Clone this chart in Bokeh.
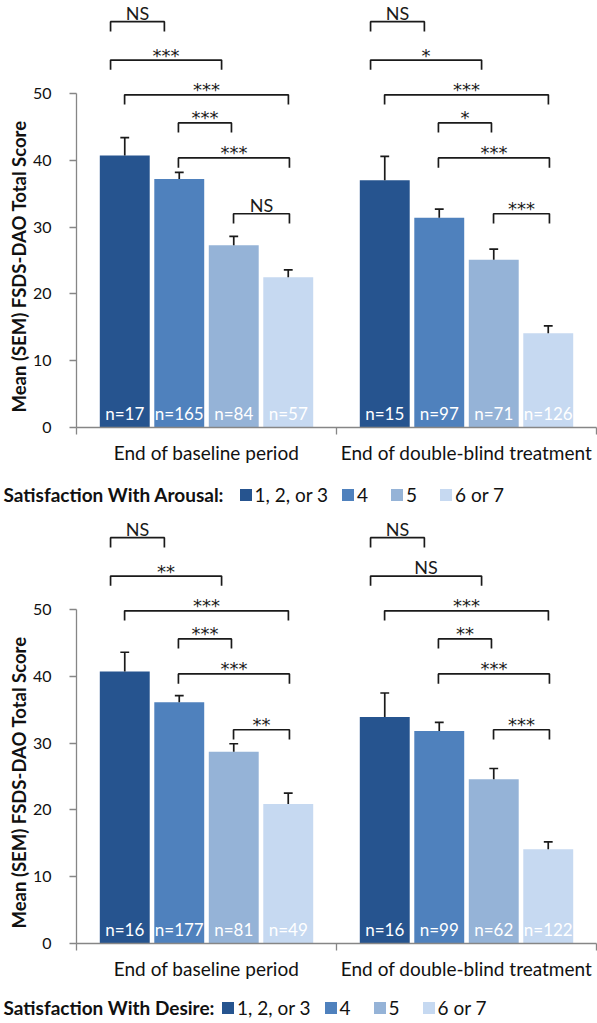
from bokeh.plotting import figure
from bokeh.models import Range1d, FixedTicker, LinearAxis, Legend, LegendItem, Title
from bokeh.layouts import column
from bokeh.embed import file_html
from bokeh.resources import INLINE
from bokeh.core.properties import value

FONT = "Lato"
STAR_FONT = "DejaVu Sans"

# ---------------- data ----------------
periods = ["End of baseline period", "End of double-blind treatment"]
levels = ["1, 2, or 3", "4", "5", "6 or 7"]
colors = ["#26548F", "#4F81BD", "#95B3D7", "#C6D9F1"]

# Panel A: Satisfaction With Arousal
arousal_mean_baseline = [40.7, 37.2, 27.3, 22.5]
arousal_sem_baseline = [2.7, 1.0, 1.3, 1.1]
arousal_mean_db = [37.0, 31.4, 25.1, 14.1]
arousal_sem_db = [3.6, 1.3, 1.6, 1.1]
arousal_n_baseline = [17, 165, 84, 57]
arousal_n_db = [15, 97, 71, 126]
arousal_sig_baseline = ["NS", "***", "***", "***", "***", "NS"]
arousal_sig_db = ["NS", "*", "***", "*", "***", "***"]

# Panel B: Satisfaction With Desire
desire_mean_baseline = [40.7, 36.1, 28.7, 20.9]
desire_sem_baseline = [2.9, 1.0, 1.2, 1.6]
desire_mean_db = [33.9, 31.8, 24.6, 14.1]
desire_sem_db = [3.6, 1.3, 1.6, 1.1]
desire_n_baseline = [16, 177, 81, 49]
desire_n_db = [16, 99, 62, 122]
desire_sig_baseline = ["NS", "**", "***", "***", "***", "**"]
desire_sig_db = ["NS", "NS", "***", "**", "***", "***"]

# significance brackets (heights in score units, ends relative to group centre)
bracket_level = [60.75, 55.0, 49.8, 45.6, 40.35, 32.0]
bracket_left = [-0.369, -0.369, -0.315, -0.108, -0.108, 0.104]
bracket_right = [-0.162, 0.058, 0.315, 0.096, 0.319, 0.319]

AXIS_COLOR = "#868686"
INK = "#1a1a1a"
TXT = "#111111"
PX_PER_UNIT = 6.68
FRAME_W = 520
PAGE_W = 597


def no_align(fig):
    if "frame_align" in fig.properties():
        fig.frame_align = False
    return fig


def make_panel(means, sems, ns, sigs, frame_h, title_offset):
    y_top = frame_h / PX_PER_UNIT
    p = figure(frame_width=FRAME_W, frame_height=frame_h,
               x_range=Range1d(0, 2), y_range=Range1d(0, y_top),
               output_backend="svg", toolbar_location=None,
               min_border_left=76, min_border_right=1, min_border_top=0,
               min_border_bottom=50,
               x_axis_type=None, y_axis_type=None)
    no_align(p)
    p.outline_line_color = None

    # y axis
    yax = LinearAxis(ticker=FixedTicker(ticks=[0, 10, 20, 30, 40, 50], minor_ticks=[]),
                     bounds=(0, 50))
    yax.axis_line_color = AXIS_COLOR
    yax.axis_line_width = 1.3
    yax.major_tick_line_color = AXIS_COLOR
    yax.major_tick_line_width = 1.3
    yax.major_tick_out = 7
    yax.major_tick_in = 0
    yax.minor_tick_out = 0
    yax.minor_tick_in = 0
    yax.major_label_text_font = FONT
    yax.major_label_text_font_size = "16px"
    yax.major_label_text_color = TXT
    yax.major_label_standoff = 18
    p.add_layout(yax, "left")

    # y axis title, placed along the 0-50 scale
    p.add_layout(Title(text="Mean (SEM) FSDS-DAO Total Score", align="left",
                       offset=title_offset, standoff=0,
                       text_font=FONT, text_font_style="bold", text_font_size="18.5px",
                       text_color=TXT), "left")

    # x axis: category boundaries as minor ticks, labels at group centres
    xax = LinearAxis(ticker=FixedTicker(ticks=[0.5, 1.5], minor_ticks=[0, 1, 2]),
                     major_label_overrides={0.5: periods[0], 1.5: periods[1]})
    xax.axis_line_color = AXIS_COLOR
    xax.axis_line_width = 1.3
    xax.major_tick_line_color = None
    xax.major_tick_out = 0
    xax.major_tick_in = 0
    xax.minor_tick_line_color = AXIS_COLOR
    xax.minor_tick_line_width = 1.3
    xax.minor_tick_out = 7
    xax.minor_tick_in = 0
    xax.major_label_text_font = FONT
    xax.major_label_text_font_size = "19px"
    xax.major_label_text_color = TXT
    xax.major_label_standoff = 6
    p.add_layout(xax, "below")

    step = 0.2096
    width = 0.192
    centers = [0.5, 1.5]
    for i in range(4):
        xs = [c + (i - 1.5) * step for c in centers]
        tops = [means[0][i], means[1][i]]
        errs = [tops[k] + sems[k][i] for k in range(2)]
        p.vbar(x=xs, top=tops, width=width, bottom=0, fill_color=colors[i], line_color=None)
        p.segment(x0=xs, y0=tops, x1=xs, y1=errs, line_color=INK, line_width=1.7)
        p.segment(x0=[x - 0.017 for x in xs], y0=errs, x1=[x + 0.017 for x in xs], y1=errs,
                  line_color=INK, line_width=1.7)
        p.text(x=xs, y=[0, 0], text=["n=%d" % ns[0][i], "n=%d" % ns[1][i]],
               text_font=value(FONT), text_font_size="17px", text_color="white",
               text_align="center", text_baseline="middle", y_offset=-14)

    # significance brackets
    bxs, bys = [], []
    ns_x, ns_y, ns_t = [], [], []
    st_x, st_y, st_t = [], [], []
    for g, c in enumerate(centers):
        for k in range(len(bracket_level)):
            l = c + bracket_left[k]
            r_ = c + bracket_right[k]
            y = bracket_level[k]
            bxs.append([l, l, r_, r_])
            bys.append([y - 1.45, y, y, y - 1.45])
            lab = sigs[g][k]
            if lab.startswith("*"):
                st_x.append((l + r_) / 2); st_y.append(y); st_t.append(lab)
            else:
                ns_x.append((l + r_) / 2); ns_y.append(y); ns_t.append(lab)
    p.multi_line(xs=bxs, ys=bys, line_color=INK, line_width=1.7)
    p.text(x=ns_x, y=ns_y, text=ns_t, text_font=value(FONT), text_font_size="18px",
           text_color=INK, text_align="center", text_baseline="middle", y_offset=-9)
    p.text(x=st_x, y=st_y, text=st_t, text_font=value(STAR_FONT), text_font_size="18px",
           text_color=INK, text_align="center", text_baseline="middle", y_offset=-5)
    return p


def legend_strip(legend_title, h, row_y, items_x):
    s = figure(frame_width=PAGE_W, frame_height=h,
               x_range=Range1d(0, PAGE_W), y_range=Range1d(0, h),
               output_backend="svg", toolbar_location=None, min_border=0,
               x_axis_type=None, y_axis_type=None)
    no_align(s)
    s.outline_line_color = None
    s.text(x=[3], y=[row_y], text=[legend_title], text_font=value(FONT),
           text_font_style="bold", text_font_size="19px", text_color=TXT,
           text_align="left", text_baseline="middle")
    # legend keys: one bar per colour, kept below the visible strip
    rs = [s.vbar(x=[0], top=[-5], bottom=-10, width=1, fill_color=colors[i], line_color=None)
          for i in range(4)]
    items = [LegendItem(label=levels[i], renderers=[rs[i]]) for i in range(4)]
    leg = Legend(items=items, orientation="horizontal", location=(items_x, row_y - 11.5))
    leg.label_text_font = FONT
    leg.label_text_font_size = "19px"
    leg.label_text_color = TXT
    leg.label_standoff = 2
    leg.glyph_width = 15
    leg.glyph_height = 15
    leg.label_height = 23
    leg.spacing = 12
    leg.padding = 0
    leg.margin = 0
    leg.border_line_color = None
    leg.background_fill_alpha = 0
    s.add_layout(leg)
    return s


top = make_panel([arousal_mean_baseline, arousal_mean_db],
                 [arousal_sem_baseline, arousal_sem_db],
                 [arousal_n_baseline, arousal_n_db],
                 [arousal_sig_baseline, arousal_sig_db],
                 frame_h=427, title_offset=15)
top_leg = legend_strip("Satisfaction With Arousal:", h=38, row_y=21, items_x=237.5)

bottom = make_panel([desire_mean_baseline, desire_mean_db],
                    [desire_sem_baseline, desire_sem_db],
                    [desire_n_baseline, desire_n_db],
                    [desire_sig_baseline, desire_sig_db],
                    frame_h=428, title_offset=15)
bottom_leg = legend_strip("Satisfaction With Desire:", h=30, row_y=16, items_x=220)

layout = column(top, top_leg, bottom, bottom_leg, spacing=0)
open("out.html", "w").write(file_html(layout, INLINE))
